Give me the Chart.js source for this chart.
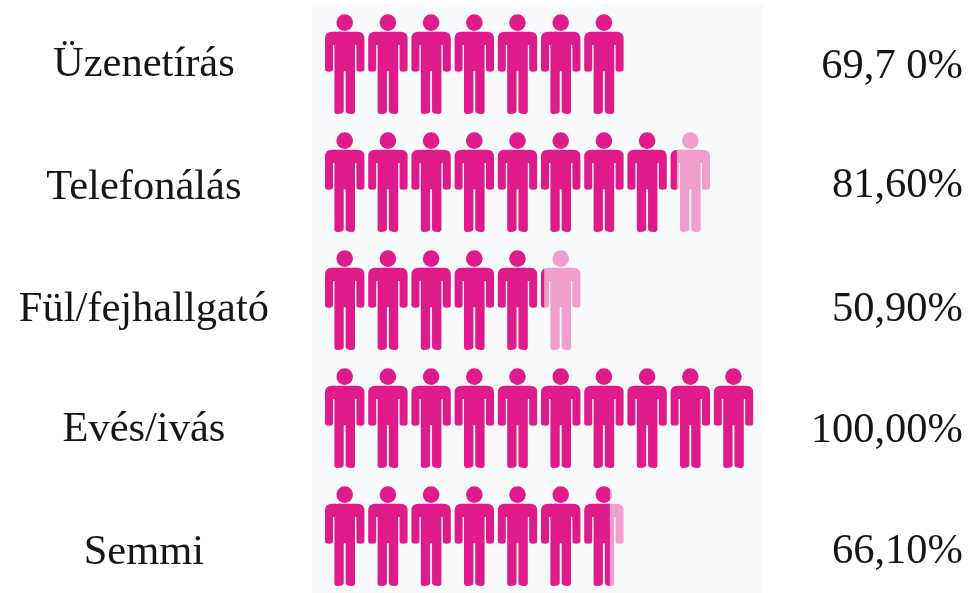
<!DOCTYPE html>
<html lang="hu">
<head>
<meta charset="utf-8">
<title>Pictogram chart</title>
<style>
html,body{margin:0;padding:0;background:#fff;overflow:hidden;width:969px;height:593px}
#wrap{position:relative;width:969px;height:593px;overflow:hidden}
canvas{display:block;filter:blur(.5px)}
</style>
<script src="https://cdn.jsdelivr.net/npm/chart.js@4"></script>
</head>
<body>
<div id="wrap"><canvas id="c" width="969" height="600"></canvas></div>
<script>
const categories = ['Üzenetírás','Telefonálás','Fül/fejhallgató','Evés/ivás','Semmi'];
const values = [69.7,81.6,50.9,100,66.1];
const remainders = [0.3,8.4,9.1,0,3.9];
const valueLabels = ['69,7 0%','81,60%','50,90%','100,00%','66,10%'];

const DARK = '#DF1A8A', LIGHT = '#F09ECC', PANEL = '#F9FAFC', INK = '#161616';
const FONT = {family:'"Liberation Serif","Times New Roman",serif', size:42.5};
const LEFT_NUDGE = [1,6,10,12,17];
const RIGHT_NUDGE = [3,4,10,13,16];
const CELL_W = 43.2, CELL_H = 118, AREA_LEFT = 324, AREA_TOP = 5;

function person(g, cx, top){
  const hw=19.7, tw=10.3, ah=8, gap=0.95;
  const y0=top+17.4, armGap=top+30.7, handY=top+57.4, legGap=top+57, foot=top+99.7;
  g.beginPath(); g.arc(cx, top+8.3, 8.3, 0, Math.PI*2); g.fill();
  g.beginPath();
  g.moveTo(cx-hw+7, y0);
  g.lineTo(cx+hw-7, y0);
  g.quadraticCurveTo(cx+hw, y0, cx+hw, y0+7);
  g.lineTo(cx+hw, handY-2.5);
  g.quadraticCurveTo(cx+hw, handY, cx+hw-ah/2, handY);
  g.quadraticCurveTo(cx+hw-ah, handY, cx+hw-ah, handY-2.5);
  g.lineTo(cx+hw-ah, armGap);
  g.lineTo(cx+tw, armGap);
  g.lineTo(cx+tw, foot-3);
  g.quadraticCurveTo(cx+tw, foot, cx+tw-2.9, foot);
  g.quadraticCurveTo(cx+gap, foot, cx+gap, foot-3);
  g.lineTo(cx+gap, legGap);
  g.lineTo(cx-gap, legGap);
  g.lineTo(cx-gap, foot-3);
  g.quadraticCurveTo(cx-gap, foot, cx-tw+2.9, foot);
  g.quadraticCurveTo(cx-tw, foot, cx-tw, foot-3);
  g.lineTo(cx-tw, armGap);
  g.lineTo(cx-hw+ah, armGap);
  g.lineTo(cx-hw+ah, handY-2.5);
  g.quadraticCurveTo(cx-hw+ah, handY, cx-hw+ah/2, handY);
  g.quadraticCurveTo(cx-hw, handY, cx-hw, handY-2.5);
  g.lineTo(cx-hw, y0+7);
  g.quadraticCurveTo(cx-hw, y0, cx-hw+7, y0);
  g.closePath(); g.fill();
}

function peoplePattern(color){
  const tile = document.createElement('canvas');
  tile.width = Math.round(CELL_W*10); tile.height = CELL_H;
  const g = tile.getContext('2d');
  g.fillStyle = color;
  for(let i=0;i<10;i++) person(g, 20.7+CELL_W*i, 9.3);
  const p = document.getElementById('c').getContext('2d').createPattern(tile,'repeat');
  p.setTransform(new DOMMatrix().translate(AREA_LEFT, AREA_TOP));
  return p;
}

const panelAndLabels = {
  id:'panelAndLabels',
  beforeDraw(chart){
    const {ctx,chartArea:a} = chart;
    ctx.save();
    ctx.fillStyle = PANEL;
    ctx.fillRect(a.left-12, a.top, a.right-a.left+19, a.bottom-a.top);
    ctx.restore();
    const shift = (scale,n) => scale.getLabelItems(a).forEach((it,i)=>{
      if(!it.__done){ it.options.translation[1] += n[i]; it.__done = true; }
    });
    shift(chart.scales.y, LEFT_NUDGE);
    shift(chart.scales.y2, RIGHT_NUDGE);
  }
};

new Chart(document.getElementById('c'),{
  type:'bar',
  data:{
    labels:categories,
    datasets:[
      {label:'Arány',data:values,backgroundColor:peoplePattern(DARK),barPercentage:1,categoryPercentage:1,borderWidth:0},
      {label:'Maradék',data:remainders,backgroundColor:peoplePattern(LIGHT),barPercentage:1,categoryPercentage:1,borderWidth:0}
    ]
  },
  plugins:[panelAndLabels],
  options:{
    indexAxis:'y',
    responsive:false,
    animation:false,
    events:[],
    layout:{padding:{top:5,bottom:5,left:0,right:6}},
    plugins:{legend:{display:false},tooltip:{enabled:false},title:{display:false}},
    scales:{
      x:{type:'linear',min:0,max:100,stacked:true,display:false},
      y:{
        type:'category',position:'left',stacked:true,offset:true,
        grid:{display:false},border:{display:false},
        afterFit(s){s.width=324;s.paddingTop=0;s.paddingBottom=0;},
        ticks:{font:FONT,color:INK,crossAlign:'center',padding:47,autoSkip:false,maxRotation:0}
      },
      y2:{
        type:'category',position:'right',labels:valueLabels,offset:true,
        grid:{display:false},border:{display:false},
        afterFit(s){s.width=207;s.paddingTop=0;s.paddingBottom=0;},
        ticks:{font:FONT,color:INK,crossAlign:'far',padding:10,autoSkip:false,maxRotation:0}
      }
    }
  }
});
</script>
</body>
</html>
